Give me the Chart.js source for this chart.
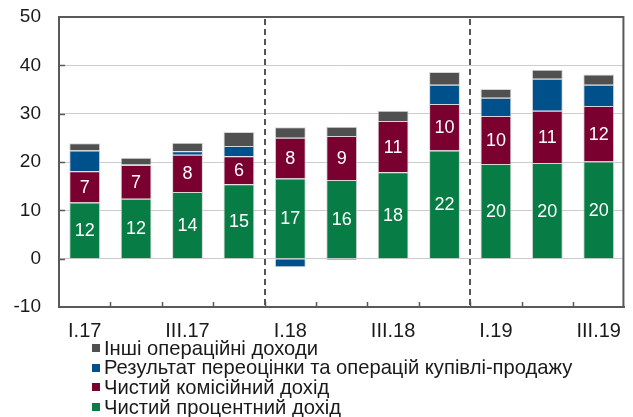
<!DOCTYPE html>
<html>
<head>
<meta charset="utf-8">
<script src="https://cdn.jsdelivr.net/npm/chart.js@4.4.1/dist/chart.umd.min.js"></script>
<style>
  html, body { margin: 0; padding: 0; background: #fff; }
  #wrap { width: 633px; height: 417px; position: relative; }
</style>
</head>
<body>
<div id="wrap"><canvas id="incomeChart"></canvas></div>
<script>
// ===== Data =====
const quarters = ['I.17', 'II.17', 'III.17', 'IV.17', 'I.18', 'II.18', 'III.18', 'IV.18', 'I.19', 'II.19', 'III.19'];

const interestIncome = [11.6, 12.4, 13.8, 15.4, 16.6, 16.3, 17.9, 22.4, 19.6, 19.8, 20.1];
const commissionIncome = [6.5, 7.0, 7.7, 5.8, 8.4, 9.1, 10.6, 9.6, 9.9, 10.8, 11.5];
const revaluationResult = [4.3, 0.1, 0.7, 2.1, -1.8, -0.3, 0.0, 4.0, 3.8, 6.6, 4.4];
const otherIncome = [1.5, 1.4, 1.8, 2.9, 2.2, 1.9, 2.1, 2.6, 1.8, 1.9, 2.1];

const seriesNames = [
    'Чистий процентний дохід',
    'Чистий комісійний дохід',
    'Результат переоцінки та операцій купівлі-продажу',
    'Інші операційні доходи'
];

const yTicks = [-10, 0, 10, 20, 30, 40, 50];
// vertical separators go after these category indexes (end of year)
const yearBreaks = [3, 7];

const FONT = '"Liberation Sans", Arial, sans-serif';
const AXIS_COLOR = '#595959';

// ===== Plugins =====
const frameAndMarks = {
    id: 'frameAndMarks',
    beforeDatasetsDraw(chart) {
        const { ctx, chartArea: a, scales: { x, y } } = chart;
        ctx.save();
        // inner tick marks on the y axis
        ctx.strokeStyle = AXIS_COLOR;
        ctx.lineWidth = 1.5;
        yTicks.slice(1, -1).forEach(v => {
            const py = Math.round(y.getPixelForValue(v)) + 0.5;
            ctx.beginPath();
            ctx.moveTo(a.left, py);
            ctx.lineTo(a.left + 6, py);
            ctx.stroke();
        });
        // inner tick marks on the x axis, between categories
        for (let i = 1; i < quarters.length; i++) {
            const px = Math.round((x.getPixelForValue(i - 1) + x.getPixelForValue(i)) / 2) + 0.5;
            ctx.beginPath();
            ctx.moveTo(px, a.bottom);
            ctx.lineTo(px, a.bottom - 5);
            ctx.stroke();
        }
        ctx.restore();
    },
    afterDatasetsDraw(chart) {
        const { ctx, chartArea: a, scales: { x } } = chart;
        ctx.save();
        // top and right sides of the frame
        ctx.strokeStyle = AXIS_COLOR;
        ctx.lineWidth = 2;
        ctx.beginPath();
        ctx.moveTo(a.left, a.top);
        ctx.lineTo(a.right - 1, a.top);
        ctx.lineTo(a.right - 1, a.bottom);
        ctx.stroke();

        // dashed year separators
        ctx.setLineDash([6, 4]);
        ctx.lineWidth = 2;
        ctx.strokeStyle = '#555';
        yearBreaks.forEach(i => {
            const px = Math.round((x.getPixelForValue(i) + x.getPixelForValue(i + 1)) / 2);
            ctx.beginPath();
            ctx.moveTo(px, a.top + 2);
            ctx.lineTo(px, a.bottom);
            ctx.stroke();
        });
        ctx.setLineDash([]);

        // white value labels on the two lower series
        ctx.fillStyle = '#fff';
        ctx.font = '18px ' + FONT;
        ctx.textAlign = 'center';
        ctx.textBaseline = 'middle';
        [0, 1].forEach(di => {
            const meta = chart.getDatasetMeta(di);
            meta.data.forEach((bar, i) => {
                const v = chart.data.datasets[di].data[i];
                const mid = (bar.y + bar.base) / 2;
                ctx.fillText(String(Math.round(v)), bar.x, mid + 1);
            });
        });
        ctx.restore();
    },
    afterDraw(chart) {
        // legend stacked one item per line, top series first
        const { ctx } = chart;
        const sets = chart.data.datasets.slice().reverse();
        ctx.save();
        ctx.font = '20.2px ' + FONT;
        ctx.textBaseline = 'middle';
        ctx.textAlign = 'left';
        sets.forEach((ds, i) => {
            const cy = 348 + i * 19.7;
            ctx.fillStyle = ds.backgroundColor;
            ctx.fillRect(92, Math.round(cy - 4), 8, 8);
            ctx.fillStyle = '#1a1a1a';
            ctx.fillText(ds.label, 104, cy + 1);
        });
        ctx.restore();
    }
};

// ===== Chart =====
const colors = ['#077c45', '#7a0030', '#00508c', '#505050'];
const seriesValues = [interestIncome, commissionIncome, revaluationResult, otherIncome];

const ctx = document.getElementById('incomeChart').getContext('2d');
const incomeChart = new Chart(ctx, {
    type: 'bar',
    data: {
        labels: quarters,
        datasets: seriesValues.map((vals, i) => ({
            label: seriesNames[i],
            data: vals,
            backgroundColor: colors[i],
            borderColor: 'rgba(210, 210, 210, 0.9)',
            borderWidth: 1,
            barPercentage: 0.6,
            categoryPercentage: 1.0
        }))
    },
    options: {
        responsive: true,
        maintainAspectRatio: false,
        animation: false,
        layout: { padding: { top: 17, right: 1, left: 0, bottom: 80 } },
        plugins: {
            legend: { display: false },
            tooltip: { enabled: false }
        },
        scales: {
            x: {
                stacked: true,
                grid: { display: false, drawTicks: false },
                border: { display: true, color: AXIS_COLOR, width: 2 },
                ticks: {
                    autoSkip: false,
                    maxRotation: 0,
                    padding: 12,
                    color: '#1a1a1a',
                    font: { family: FONT, size: 20 },
                    callback: (v, i) => (i % 2 === 0 ? quarters[i] : '')
                },
                afterFit: s => { s.height = 30; }
            },
            y: {
                stacked: true,
                min: -10,
                max: 50,
                ticks: {
                    stepSize: 10,
                    padding: 18,
                    color: '#1a1a1a',
                    font: { family: FONT, size: 19 }
                },
                grid: {
                    drawTicks: false,
                    color: c => (c.tick.value === -10 || c.tick.value === 50 ? 'rgba(0,0,0,0)' : '#cccccc'),
                    lineWidth: 1
                },
                border: { display: true, color: AXIS_COLOR, width: 2 },
                afterFit: s => {
                    s.width = 59;
                    s.paddingTop = 0;
                    s.paddingBottom = 0;
                }
            }
        }
    },
    plugins: [frameAndMarks]
});
</script>
</body>
</html>
